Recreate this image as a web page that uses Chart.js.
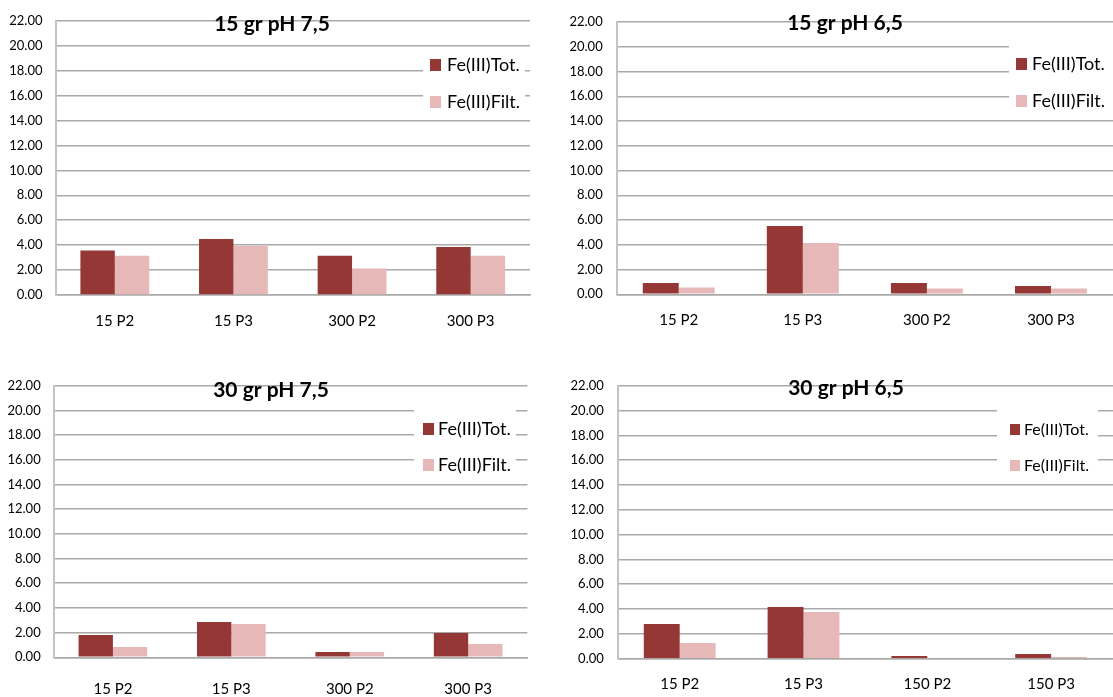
<!DOCTYPE html>
<html>
<head>
<meta charset="utf-8">
<script src="https://cdn.jsdelivr.net/npm/chart.js@4.4.0/dist/chart.umd.min.js"></script>
<style>
  html, body { margin: 0; padding: 0; background: #fff; overflow: hidden; }
  #wrap { position: relative; width: 1113px; height: 697px; overflow: hidden; }
  canvas { position: absolute; }
</style>
</head>
<body>
<div id="wrap">
  <canvas id="c1" width="556" height="350" style="left:0;top:0"></canvas>
  <canvas id="c2" width="557" height="350" style="left:556px;top:0"></canvas>
  <canvas id="c3" width="556" height="347" style="left:0;top:350px"></canvas>
  <canvas id="c4" width="557" height="347" style="left:556px;top:350px"></canvas>
</div>
<script>
// categories
const labels300 = ['15 P2', '15 P3', '300 P2', '300 P3'];
const labels150 = ['15 P2', '15 P3', '150 P2', '150 P3'];
const seriesNames = ['Fe(III)Tot.', 'Fe(III)Filt.'];

// values
const tot15pH75 = [3.57, 4.50, 3.14, 3.86];
const filt15pH75 = [3.14, 3.94, 2.13, 3.14];
const tot15pH65 = [0.92, 5.52, 0.92, 0.67];
const filt15pH65 = [0.54, 4.15, 0.46, 0.46];
const tot30pH75 = [1.81, 2.86, 0.43, 1.97];
const filt30pH75 = [0.84, 2.70, 0.43, 1.08];
const tot30pH65 = [2.79, 4.16, 0.21, 0.38];
const filt30pH65 = [1.26, 3.76, 0.05, 0.13];

// y axis
const yMin = 0;
const yMax = 22;
const yStep = 2;

const colTot = '#953735';
const colFilt = '#e6b9b8';
const gridCol = '#a9a9a9';

Chart.defaults.font.family = 'Lato, "Open Sans", sans-serif';
Chart.defaults.color = '#000';

// title drawn over the plot, like the original
const overTitle = {
  id: 'overTitle',
  afterDraw(chart, args, o) {
    const ctx = chart.ctx;
    ctx.save();
    ctx.font = 'bold 21px Lato';
    ctx.fillStyle = '#000';
    ctx.textAlign = 'center';
    ctx.textBaseline = 'alphabetic';
    ctx.fillText(o.text, o.x, o.y);
    ctx.restore();
  }
};

// legend box sitting on top of the gridlines
const boxLegend = {
  id: 'boxLegend',
  afterDraw(chart, args, o) {
    const ctx = chart.ctx;
    ctx.save();
    ctx.fillStyle = '#fff';
    ctx.fillRect(o.x, o.y, o.w, o.h);
    ctx.font = o.size + 'px Lato';
    ctx.textBaseline = 'alphabetic';
    ctx.textAlign = 'left';
    chart.data.datasets.forEach((ds, i) => {
      const top = o.rows[i];
      ctx.fillStyle = ds.backgroundColor;
      ctx.fillRect(o.sx, top, o.sw, o.sh);
      ctx.fillStyle = '#000';
      ctx.fillText(ds.label, o.tx, top + o.sh);
    });
    ctx.restore();
  }
};

function makeChart(id, title, labels, tot, filt, lay) {
  new Chart(document.getElementById(id), {
    type: 'bar',
    data: {
      labels: labels,
      datasets: [
        { label: seriesNames[0], data: tot, backgroundColor: colTot, borderWidth: 0 },
        { label: seriesNames[1], data: filt, backgroundColor: colFilt, borderWidth: 0 }
      ]
    },
    options: {
      responsive: false,
      animation: false,
      devicePixelRatio: 1,
      categoryPercentage: 0.58,
      barPercentage: 1,
      layout: { padding: { left: 0, right: lay.right, top: lay.top, bottom: 0 } },
      plugins: {
        legend: { display: false },
        title: { display: false },
        tooltip: { enabled: false },
        overTitle: { text: title, x: lay.titleX, y: lay.titleY },
        boxLegend: lay.legend
      },
      scales: {
        x: {
          grid: { display: false, drawTicks: false },
          border: { display: true, color: gridCol, width: 1.5 },
          ticks: { padding: lay.xpad, font: { size: 15 } },
          afterFit: (s) => { s.height = lay.xh; }
        },
        y: {
          min: yMin,
          max: yMax,
          grid: { color: gridCol, lineWidth: 1.5, drawTicks: false },
          border: { display: true, color: '#c4c4c4', width: 2 },
          ticks: {
            stepSize: yStep,
            padding: lay.ypad,
            font: { size: 13 },
            callback: (v) => Number(v).toFixed(2)
          },
          afterFit: (s) => { s.width = lay.yw; }
        }
      }
    },
    plugins: [overTitle, boxLegend]
  });
}

makeChart('c1', '15 gr pH 7,5', labels300, tot15pH75, filt15pH75, {
  right: 26, top: 20, yw: 55.5, xh: 55, xpad: 17, ypad: 13,
  titleX: 272, titleY: 31,
  legend: { x: 423, y: 50, w: 102, h: 66, sx: 430, sw: 11, sh: 12, rows: [59, 96], tx: 447, size: 18 }
});
makeChart('c2', '15 gr pH 6,5', labels300, tot15pH65, filt15pH65, {
  right: 0, top: 22, yw: 60.7, xh: 55.7, xpad: 17, ypad: 14,
  titleX: 289, titleY: 30,
  legend: { x: 453, y: 40, w: 110, h: 76, sx: 460, sw: 11, sh: 12, rows: [58, 95], tx: 476, size: 18 }
});
makeChart('c3', '30 gr pH 7,5', labels300, tot30pH75, filt30pH75, {
  right: 28.6, top: 35.7, yw: 53.7, xh: 39.7, xpad: 23, ypad: 13,
  titleX: 271, titleY: 47,
  legend: { x: 414, y: 53, w: 102, h: 75, sx: 423, sw: 11, sh: 12, rows: [73, 109], tx: 438, size: 18 }
});
makeChart('c4', '30 gr pH 6,5', labels150, tot30pH65, filt30pH65, {
  right: 0, top: 35.7, yw: 61.8, xh: 38.3, xpad: 16, ypad: 14,
  titleX: 290, titleY: 45,
  legend: { x: 441, y: 53, w: 101, h: 75, sx: 454, sw: 10, sh: 11, rows: [74, 110], tx: 468, size: 16 }
});
</script>
</body>
</html>
